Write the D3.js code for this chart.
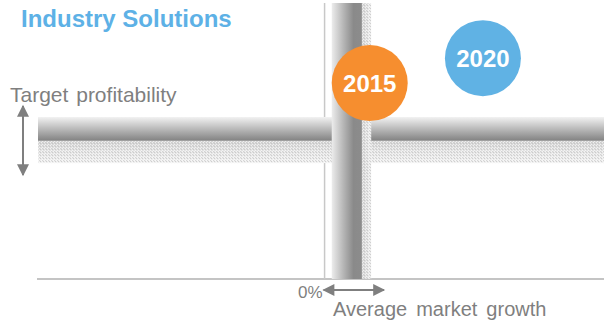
<!DOCTYPE html>
<html>
<head>
<meta charset="utf-8">
<script src="https://cdn.jsdelivr.net/npm/d3@7"></script>
<style>
  body { margin: 0; background: #fff; }
  text { font-family: "Liberation Sans", Arial, sans-serif; }
</style>
</head>
<body>
<div id="chart"></div>
<script>
// data
const years = ["2015", "2020"];
const growth = [0.63, 2.21];          // average market growth (%)
const profitability = [7.1, 8.0];     // profitability index
const targetBand = [4.2, 5.87];       // target profitability range
const growthBand = [0.1, 0.65];       // average market growth range

const W = 604, H = 322;
const svg = d3.select("#chart").append("svg")
    .attr("width", W).attr("height", H);

// scales
const x = d3.scaleLinear().domain([-4, 3.9]).range([38, 604]);
const y = d3.scaleLinear().domain([0, 10]).range([279, 3]);
const color = d3.scaleOrdinal().domain(years).range(["#F68E2F", "#60B2E4"]);
const R = 38;

const defs = svg.append("defs");
// horizontal band gradient (top to bottom)
const gh = defs.append("linearGradient").attr("id", "gh")
    .attr("x1", 0).attr("y1", 0).attr("x2", 0).attr("y2", 1);
[[0, "#f2f2f2"], [0.5, "#858585"], [0.53, "#d4d4d4"], [0.75, "#e4e4e4"], [1, "#f0f0f0"]]
  .forEach(s => gh.append("stop").attr("offset", s[0]).attr("stop-color", s[1]));
// vertical band gradient (left to right)
const gv = defs.append("linearGradient").attr("id", "gv")
    .attr("x1", 0).attr("y1", 0).attr("x2", 1).attr("y2", 0);
[[0, "#ececec"], [0.3, "#b5b5b5"], [0.55, "#8a8a8a"], [0.75, "#8c8c8c"], [0.78, "#d6d6d6"], [1, "#efefef"]]
  .forEach(s => gv.append("stop").attr("offset", s[0]).attr("stop-color", s[1]));
// speckle texture for the soft side of the bands
const pat = defs.append("pattern").attr("id", "dith")
    .attr("patternUnits", "userSpaceOnUse").attr("width", 3).attr("height", 3);
[[0, 0, "#fff"], [2, 1, "#fff"], [1, 2, "#bbb"], [0, 1, "#c8c8c8"]]
  .forEach(p => pat.append("rect").attr("x", p[0]).attr("y", p[1])
    .attr("width", 1).attr("height", 1).attr("fill", p[2]).attr("opacity", 0.6));
// arrow heads
defs.append("marker").attr("id", "ah")
    .attr("viewBox", "0 0 10 10").attr("refX", 9).attr("refY", 5)
    .attr("markerWidth", 6.5).attr("markerHeight", 6)
    .attr("markerUnits", "strokeWidth")
    .attr("orient", "auto-start-reverse")
  .append("path").attr("d", "M0,0L10,5L0,10Z").attr("fill", "#7f7f7f");

// axes lines
svg.append("line")
    .attr("x1", x(-4) - 1).attr("x2", W)
    .attr("y1", y(0)).attr("y2", y(0))
    .attr("stroke", "#c4c4c4").attr("stroke-width", 2);
svg.append("line")
    .attr("x1", x(0)).attr("x2", x(0))
    .attr("y1", y(10)).attr("y2", y(0))
    .attr("stroke", "#c8c8c8").attr("stroke-width", 1.5);

// target profitability band
const hy0 = y(targetBand[1]), hy1 = y(targetBand[0]);
svg.append("rect")
    .attr("x", x(-4)).attr("width", W - x(-4))
    .attr("y", hy0).attr("height", hy1 - hy0)
    .attr("fill", "url(#gh)");
svg.append("rect")
    .attr("x", x(-4)).attr("width", W - x(-4))
    .attr("y", (hy0 + hy1) / 2 + 1).attr("height", (hy1 - hy0) / 2 - 1)
    .attr("fill", "url(#dith)");

// average growth band
const vx0 = x(growthBand[0]), vx1 = x(growthBand[1]);
svg.append("rect")
    .attr("x", vx0).attr("width", vx1 - vx0)
    .attr("y", y(10)).attr("height", y(0) - y(10))
    .attr("fill", "url(#gv)");
svg.append("rect")
    .attr("x", vx0 + (vx1 - vx0) * 0.77).attr("width", (vx1 - vx0) * 0.23)
    .attr("y", y(10)).attr("height", y(0) - y(10))
    .attr("fill", "url(#dith)");

// year bubbles
const g = svg.selectAll("g.yr").data(years).enter().append("g").attr("class", "yr")
    .attr("transform", (d, i) => `translate(${x(growth[i])},${y(profitability[i])})`);
g.append("circle").attr("r", R).attr("fill", d => color(d));
g.append("text").attr("text-anchor", "middle").attr("dy", "0.36em")
    .attr("fill", "#fff").attr("font-weight", "bold").attr("font-size", 24)
    .text(d => d);

// title
svg.append("text").attr("x", 21).attr("y", 27)
    .attr("fill", "#5DB1E6").attr("font-weight", "bold").attr("font-size", 24)
    .text("Industry Solutions");

// y label + arrow
svg.append("text").attr("x", 10).attr("y", 102)
    .attr("fill", "#7f7f7f").attr("font-size", 21).attr("word-spacing", 2)
    .text("Target profitability");
svg.append("line")
    .attr("x1", 23).attr("x2", 23).attr("y1", 106).attr("y2", 175)
    .attr("stroke", "#7f7f7f").attr("stroke-width", 2)
    .attr("marker-start", "url(#ah)").attr("marker-end", "url(#ah)");

// x label + arrow
svg.append("text").attr("x", x(0) - 2).attr("y", 298)
    .attr("text-anchor", "end")
    .attr("fill", "#7f7f7f").attr("font-size", 17)
    .text("0%");
svg.append("line")
    .attr("x1", x(0) - 1).attr("x2", 384).attr("y1", 290).attr("y2", 290)
    .attr("stroke", "#7f7f7f").attr("stroke-width", 2)
    .attr("marker-start", "url(#ah)").attr("marker-end", "url(#ah)");
svg.append("text").attr("x", 333).attr("y", 316)
    .attr("fill", "#7f7f7f").attr("font-size", 20).attr("word-spacing", 3.5)
    .text("Average market growth");
</script>
</body>
</html>
